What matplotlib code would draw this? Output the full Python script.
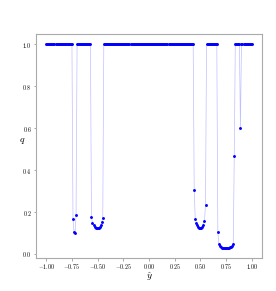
import numpy as np
import matplotlib
matplotlib.use("Agg")
import matplotlib.pyplot as plt

plt.rcParams['font.family'] = 'serif'
plt.rcParams['font.serif'] = ['cmr10', 'DejaVu Serif']
plt.rcParams['mathtext.fontset'] = 'cm'
plt.rcParams['axes.formatter.use_mathtext'] = True

# grid of y-hat values (step 0.01 from -1 to 1)
y_hat = np.round(np.linspace(-1.0, 1.0, 201), 2)

# dips below q = 1 (start position and values)
dip1_start = -0.74
dip1_q = [0.168, 0.105, 0.100, 0.186]
dip2_start = -0.56
dip2_q = [0.175, 0.148, 0.136, 0.129, 0.125, 0.123, 0.123, 0.125, 0.129, 0.137, 0.151, 0.174]
dip3_start = 0.44
dip3_q = [0.305, 0.168, 0.150, 0.139, 0.131, 0.126, 0.124, 0.125, 0.130, 0.140, 0.157, 0.234]
dip4_start = 0.67
dip4_q = [0.106, 0.048, 0.038, 0.033, 0.030, 0.029, 0.028, 0.028, 0.028, 0.028,
          0.029, 0.030, 0.032, 0.035, 0.040, 0.047, 0.470]
dip5_start = 0.89
dip5_q = [0.600]

q = np.ones_like(y_hat)
for start, vals in [(dip1_start, dip1_q), (dip2_start, dip2_q), (dip3_start, dip3_q),
                    (dip4_start, dip4_q), (dip5_start, dip5_q)]:
    i0 = int(np.argmin(np.abs(y_hat - start)))
    q[i0:i0 + len(vals)] = vals

fig = plt.figure(figsize=(2.76, 2.91), dpi=100)
ax = fig.add_axes([0.1304, 0.1124, 0.8189, 0.7698])

ax.plot(y_hat, q, color='blue', alpha=0.25, linewidth=0.5)
ax.plot(y_hat, q, linestyle='none', marker='o', markersize=2.1, color='blue',
        markeredgewidth=0)

ax.set_xticks([-1.0, -0.75, -0.5, -0.25, 0.0, 0.25, 0.5, 0.75, 1.0])
ax.set_yticks([0.0, 0.2, 0.4, 0.6, 0.8, 1.0])
ax.tick_params(labelsize=4.3, length=1.8, width=0.5, color='#888888', pad=1.2)

for s in ax.spines.values():
    s.set_color('#aaaaaa')
    s.set_linewidth(0.8)

ax.set_xlabel(r'$\hat{y}$', fontsize=7, labelpad=-0.5)
ax.set_ylabel(r'$q$', fontsize=7, rotation=0, labelpad=0)

fig.savefig('out.png', dpi=100)
